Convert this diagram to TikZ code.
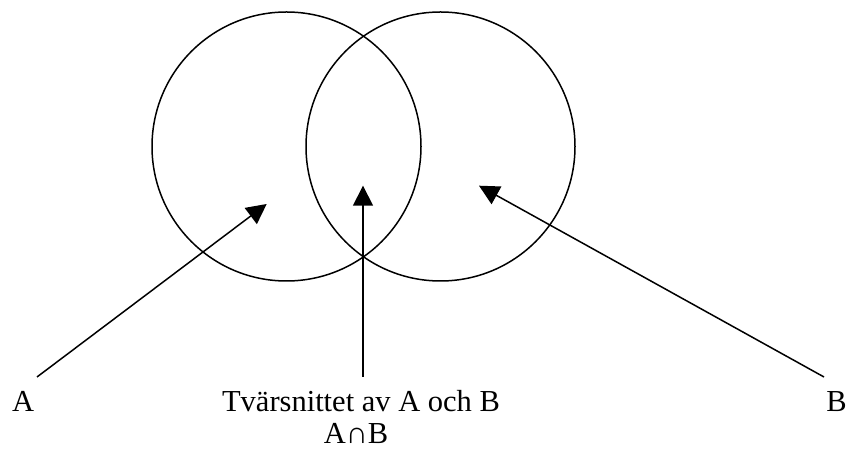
\documentclass[tikz,border=0pt]{standalone}
\usepackage{fontspec}
\setmainfont{Liberation Serif}
\usetikzlibrary{arrows.meta,positioning}

\tikzset{
  setcirc/.style={circle,draw,line width=1.5pt,minimum size=269pt,inner sep=0pt},
  lbl/.style={inner sep=0pt,font=\fontsize{30.5}{38}\selectfont},
  pointer/.style={-{Triangle[length=20pt,width=20pt]},line width=1.5pt}
}

\begin{document}
\begin{tikzpicture}[x=1pt,y=1pt]
    \useasboundingbox (0,0) rectangle (847,452);
    % the two sets
    \node[setcirc] (setA) at (286.5,305.5) {};
    \node[setcirc] (setB) at (440.5,305.5) {};
    % labels
    \node[lbl,anchor=base west] (labA) at (12,40) {A};
    \node[lbl,anchor=base] (labAB) at (361,40) {Tvärsnittet av A och B};
    \node[lbl,anchor=base] (labCap) at (356,8) {A∩B};
    \node[lbl,anchor=base east] (labB) at (847,40) {B};
    % arrow ends
    \coordinate (tailA) at (37,75);
    \coordinate (tailAB) at (363,75);
    \coordinate (tailB) at (824,75);
    \coordinate (tipA) at (266.7,248);
    \coordinate (tipAB) at (363,266.3);
    \coordinate (tipB) at (479,266.3);
    \foreach \p in {A,AB,B}{\draw[pointer] (tail\p)--(tip\p);}
\end{tikzpicture}
\end{document}
